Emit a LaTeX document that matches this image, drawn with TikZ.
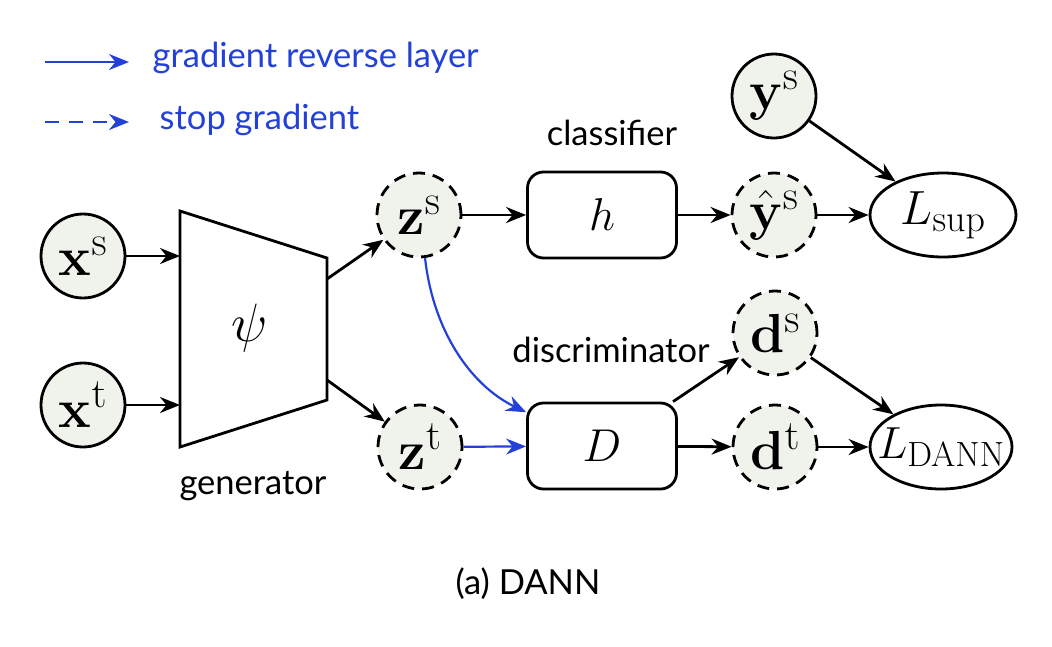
\documentclass[tikz,border=0pt]{standalone}
\usepackage{fix-cm}
\usepackage{amsmath}
\usepackage[no-math]{fontspec}
\setmainfont{Lato}
\DeclareMathSizes{55}{55}{42}{32}
\DeclareMathSizes{48}{48}{38}{30}
\DeclareMathSizes{45}{45}{35}{28}
\usetikzlibrary{arrows.meta,shapes.geometric}
\definecolor{nodefill}{RGB}{240,243,236}
\definecolor{grlblue}{RGB}{35,65,215}
\begin{document}
\begin{tikzpicture}[x=1pt,y=-1pt,line width=2.8pt,
  conn/.style={-{Stealth[length=20pt,width=16pt]}, line width=2.8pt},
  var/.style={circle, draw, fill=nodefill, minimum size=84pt, inner sep=0pt, font=\fontsize{55}{60}\selectfont},
  latent/.style={var, dash pattern=on 12pt off 8pt},
  fnbox/.style={draw, fill=white, rounded corners=16pt, minimum width=149pt, minimum height=86pt, inner sep=0pt, font=\fontsize{46}{50}\selectfont},
  loss/.style={ellipse, draw, fill=white, minimum width=146pt, minimum height=84pt, inner sep=0pt, font=\fontsize{48}{52}\selectfont},
  lbl/.style={font=\fontsize{34.5}{38}\selectfont},
  leg/.style={font=\fontsize{34.5}{38}\selectfont, text=grlblue, anchor=west}]
\useasboundingbox (0,0) rectangle (1052,646);
% legend
\coordinate (la1) at (45,62); \coordinate (la2) at (129,62);
\coordinate (lb1) at (45,122); \coordinate (lb2) at (129,122);
\draw[conn, grlblue, line width=2.3pt] (la1) -- (la2);
\draw[conn, grlblue, line width=2.3pt, dash pattern=on 14pt off 10pt] (lb1) -- (lb2);
\node[leg] (tgrl) at (148,58) {gradient reverse layer};
\node[leg] (tsg) at (155,120) {stop gradient};
% generator
\draw (180,211) -- (327,258) -- (327,400) -- (180,447) -- cycle;
\coordinate (gin1) at (180,256); \coordinate (gin2) at (180,405);
\coordinate (gout1) at (327,279); \coordinate (gout2) at (327,380);
\node[font=\fontsize{54}{58}\selectfont] (psi) at (250,328) {$\psi$};
\node[lbl] (tgen) at (253,486) {generator};
% nodes
\node[var] (xs) at (83,256) {$\mathbf{x}^{\mathrm{s}}$};
\node[var] (xt) at (83,405) {$\mathbf{x}^{\mathrm{t}}$};
\node[latent] (zs) at (419,215) {$\mathbf{z}^{\mathrm{s}}$};
\node[latent] (zt) at (420,447) {$\mathbf{z}^{\mathrm{t}}$};
\node[fnbox] (h) at (602,215) {$h$};
\node[fnbox] (D) at (602,446) {$D$};
\node[lbl] (tcls) at (612,133) {classifier};
\node[lbl] (tdis) at (611,350) {discriminator};
\node[latent] (yhs) at (774,215) {$\hat{\mathbf{y}}^{\mathrm{s}}$};
\node[var] (ys) at (774,96) {$\mathbf{y}^{\mathrm{s}}$};
\node[latent] (ds) at (775,333) {$\mathbf{d}^{\mathrm{s}}$};
\node[latent] (dt) at (775,447) {$\mathbf{d}^{\mathrm{t}}$};
\node[loss] (lsup) at (943,215) {\makebox[0pt]{$L_{\mathrm{sup}}$}};
\node[loss, minimum width=142pt, font=\fontsize{45}{50}\selectfont] (ldann) at (941,447) {\makebox[0pt]{$L_{\mathrm{DANN}}$}};
\node[lbl] (tcap) at (528,584) {(a) DANN};
% connectors
\draw[conn] (xs) -- (gin1);
\draw[conn] (xt) -- (gin2);
\draw[conn] (gout1) -- (zs);
\draw[conn] (gout2) -- (zt);
\draw[conn] (zs) -- (h);
\draw[conn] (h) -- (yhs);
\draw[conn] (yhs) -- (lsup);
\draw[conn] (ys) -- (lsup);
\draw[conn, grlblue, line width=2.2pt] (zs.-82) .. controls (433,330) and (470,385) .. (D.156);
\draw[conn, grlblue, line width=2.2pt] (zt) -- (D);
\draw[conn] (D.32) -- (ds);
\draw[conn] (D) -- (dt);
\draw[conn] (ds) -- (ldann);
\draw[conn] (dt) -- (ldann);
\end{tikzpicture}
\end{document}
